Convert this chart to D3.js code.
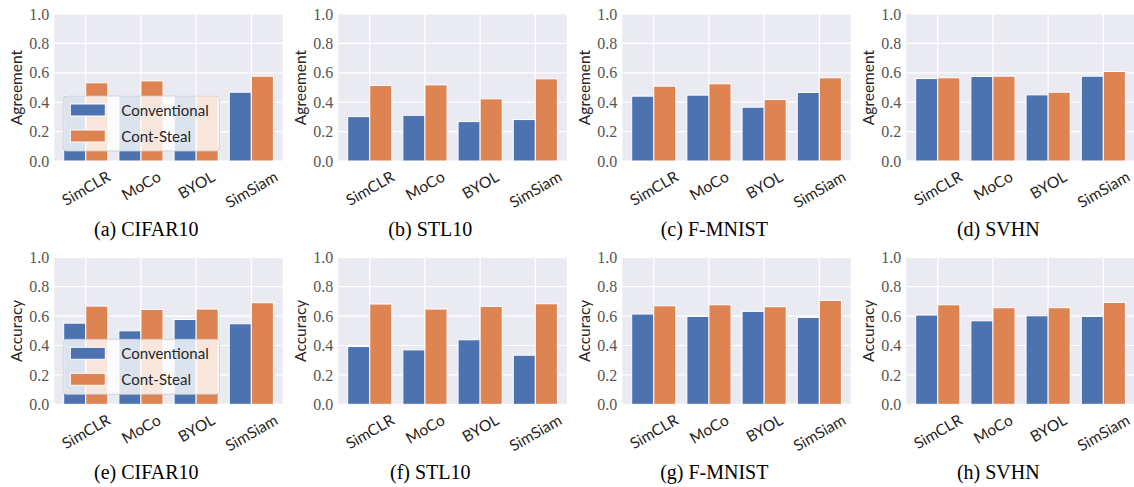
<!DOCTYPE html>
<html><head><meta charset="utf-8">
<script src="https://cdn.jsdelivr.net/npm/d3@7"></script>
<style>body{margin:0;background:#fff}svg{display:block}</style>
</head><body>
<svg id="chart" width="1134" height="487"></svg>
<script>
// ---- data ----
const categories = ["SimCLR", "MoCo", "BYOL", "SimSiam"];
const datasets = ["CIFAR10", "STL10", "F-MNIST", "SVHN"];
const seriesNames = ["Conventional", "Cont-Steal"];
const yTicks = [0, 0.2, 0.4, 0.6, 0.8, 1.0];
// agreement (top row), one row per dataset
const agreementConventional = [
  [0.445, 0.445, 0.445, 0.468],
  [0.302, 0.311, 0.268, 0.282],
  [0.441, 0.448, 0.366, 0.466],
  [0.561, 0.575, 0.450, 0.577]
];
const agreementContSteal = [
  [0.532, 0.545, 0.445, 0.577],
  [0.514, 0.518, 0.423, 0.559],
  [0.509, 0.525, 0.418, 0.566],
  [0.566, 0.577, 0.468, 0.609]
];
// accuracy (bottom row)
const accuracyConventional = [
  [0.552, 0.500, 0.577, 0.548],
  [0.393, 0.370, 0.439, 0.334],
  [0.614, 0.598, 0.632, 0.591],
  [0.607, 0.568, 0.602, 0.598]
];
const accuracyContSteal = [
  [0.668, 0.645, 0.648, 0.691],
  [0.682, 0.648, 0.666, 0.684],
  [0.670, 0.677, 0.664, 0.707],
  [0.677, 0.657, 0.657, 0.693]
];
const captionLetters = ["a","b","c","d","e","f","g","h"];

// ---- layout ----
const svg = d3.select("#chart");
const colors = ["#4C72B0", "#DD8452"];
const plotLefts = [54.3, 338.3, 622.3, 906.3];
const plotW = 228.5;
const rows = [
  {top: 14, bottom: 161, label: "Agreement", conv: agreementConventional, cont: agreementContSteal},
  {top: 257.3, bottom: 404.3, label: "Accuracy", conv: accuracyConventional, cont: accuracyContSteal}
];
const sansFont = "Lato, 'DejaVu Sans', sans-serif";
const serifFont = "'Liberation Serif', 'DejaVu Serif', serif";

rows.forEach((row, r) => {
  datasets.forEach((ds, d) => {
    const left = plotLefts[d];
    const x = d3.scaleLinear().domain([-0.57, 3.57]).range([left, left + plotW]);
    const y = d3.scaleLinear().domain([0, 1]).range([row.bottom, row.top]);
    const g = svg.append("g");
    // background
    g.append("rect").attr("x", left).attr("y", row.top)
      .attr("width", plotW).attr("height", row.bottom - row.top).attr("fill", "#EAEAF2");
    // grid
    g.selectAll(".hg").data(yTicks).join("line")
      .attr("x1", left).attr("x2", left + plotW)
      .attr("y1", v => y(v)).attr("y2", v => y(v))
      .attr("stroke", "#fff").attr("stroke-width", 1.2);
    g.selectAll(".vg").data(categories).join("line")
      .attr("x1", (c, i) => x(i)).attr("x2", (c, i) => x(i))
      .attr("y1", row.top).attr("y2", row.bottom)
      .attr("stroke", "#fff").attr("stroke-width", 1.2);
    // bars
    const series = [row.conv[d], row.cont[d]];
    series.forEach((vals, s) => {
      g.selectAll(".b" + s).data(vals).join("rect")
        .attr("x", (v, i) => x(i - 0.4 + 0.4 * s))
        .attr("width", x(0.4) - x(0))
        .attr("y", v => y(v))
        .attr("height", v => y(0) - y(v))
        .attr("fill", colors[s])
        .attr("stroke", "#fff").attr("stroke-width", 1);
    });
    // y axis
    const ya = g.append("g").attr("transform", `translate(${left},0)`)
      .call(d3.axisLeft(y).tickValues(yTicks).tickFormat(d3.format(".1f")).tickSize(0).tickPadding(5));
    ya.select(".domain").remove();
    ya.selectAll("text").attr("font-family", serifFont).attr("font-size", 16).attr("fill", "#555");
    // y label
    g.append("text").attr("transform", `translate(${left - 38},${(row.top + row.bottom) / 2}) rotate(-90)`)
      .attr("text-anchor", "middle").attr("dominant-baseline", "central")
      .attr("font-family", sansFont).attr("font-size", 15.5).attr("fill", "#262626")
      .text(row.label);
    // x tick labels
    categories.forEach((c, i) => {
      const t = g.append("text").attr("font-family", sansFont).attr("font-size", 15.5)
        .attr("fill", "#262626").attr("text-anchor", "middle").attr("dominant-baseline", "central")
        .text(c);
      const w = t.node().getComputedTextLength();
      const cx = x(i);
      const cy = row.bottom + 9 + (w * 0.5 + 11 * 0.866) / 2;
      t.attr("x", cx).attr("y", cy).attr("transform", `rotate(-30,${cx},${cy})`);
    });
    // caption
    g.append("text").attr("x", left + 92).attr("y", row.bottom + 75)
      .attr("text-anchor", "middle").attr("font-family", serifFont).attr("font-size", 20)
      .attr("fill", "#000").text(`(${captionLetters[r * 4 + d]}) ${ds}`);
    // legend in first column
    if (d === 0) {
      const lx = left + 9, lh = 55, ly = row.bottom - 10 - lh, lw = 156;
      const lg = g.append("g");
      lg.append("rect").attr("x", lx).attr("y", ly).attr("width", lw).attr("height", lh)
        .attr("rx", 3).attr("fill", "#fff").attr("fill-opacity", 0.8)
        .attr("stroke", "#ccc").attr("stroke-opacity", 0.8).attr("stroke-width", 1);
      seriesNames.forEach((n, s) => {
        const cy = ly + 14 + s * 26;
        lg.append("rect").attr("x", lx + 7).attr("y", cy - 6).attr("width", 35).attr("height", 12)
          .attr("fill", colors[s]).attr("stroke", "#fff").attr("stroke-width", 1);
        lg.append("text").attr("x", lx + 58).attr("y", cy).attr("dominant-baseline", "central")
          .attr("font-family", sansFont).attr("font-size", 15).attr("fill", "#262626").text(n);
      });
    }
  });
});
</script>
</body></html>
